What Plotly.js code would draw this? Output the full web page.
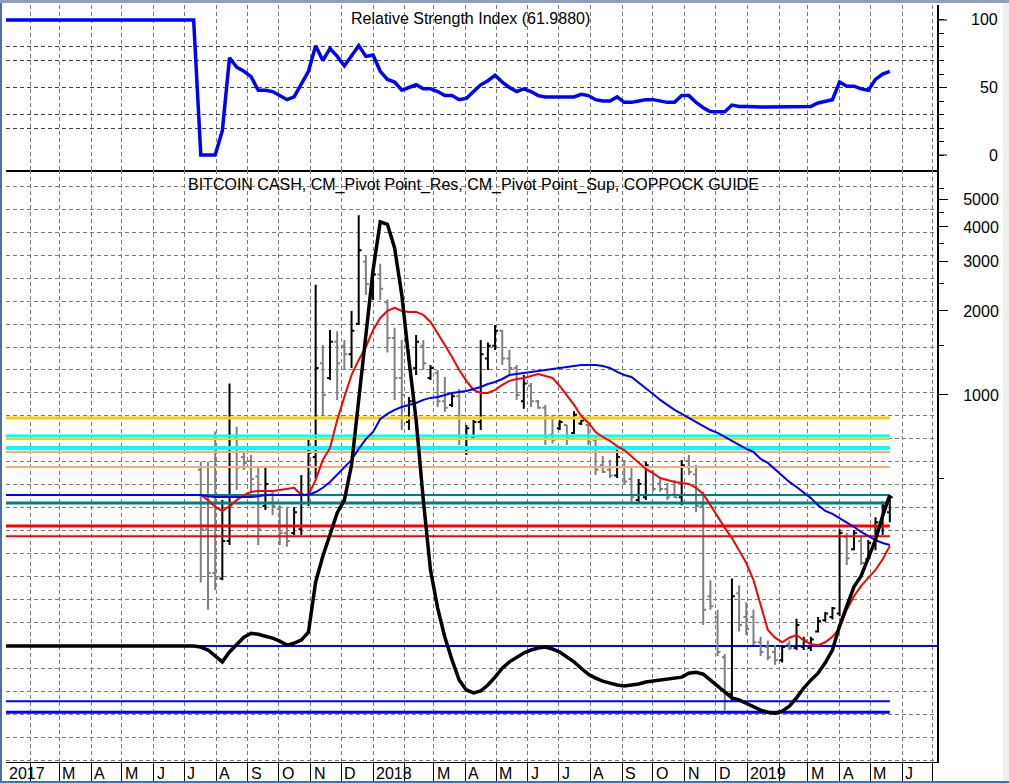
<!DOCTYPE html>
<html><head><meta charset="utf-8">
<script src="https://cdn.plot.ly/plotly-3.0.1.min.js"></script>
<style>html,body{margin:0;padding:0;background:#fff;overflow:hidden}#chart{width:1009px;height:783px}</style>
</head><body><div id="chart"></div>
<script>
// ---------- data ----------
const barDates = ['2017-07-17','2017-07-24','2017-07-31','2017-08-07','2017-08-14','2017-08-21','2017-08-28','2017-09-04','2017-09-11','2017-09-18','2017-09-25','2017-10-02','2017-10-09','2017-10-16','2017-10-23','2017-10-30','2017-11-06','2017-11-13','2017-11-20','2017-11-27','2017-12-04','2017-12-11','2017-12-18','2017-12-25','2018-01-01','2018-01-08','2018-01-15','2018-01-22','2018-01-29','2018-02-05','2018-02-12','2018-02-19','2018-02-26','2018-03-05','2018-03-12','2018-03-19','2018-03-26','2018-04-02','2018-04-09','2018-04-16','2018-04-23','2018-04-30','2018-05-07','2018-05-14','2018-05-21','2018-05-28','2018-06-04','2018-06-11','2018-06-18','2018-06-25','2018-07-02','2018-07-09','2018-07-16','2018-07-23','2018-07-30','2018-08-06','2018-08-13','2018-08-20','2018-08-27','2018-09-03','2018-09-10','2018-09-17','2018-09-24','2018-10-01','2018-10-08','2018-10-15','2018-10-22','2018-10-29','2018-11-05','2018-11-12','2018-11-19','2018-11-26','2018-12-03','2018-12-10','2018-12-17','2018-12-24','2018-12-31','2019-01-07','2019-01-14','2019-01-21','2019-01-28','2019-02-04','2019-02-11','2019-02-18','2019-02-25','2019-03-04','2019-03-11','2019-03-18','2019-03-25','2019-04-01','2019-04-08','2019-04-15','2019-04-22','2019-04-29','2019-05-06','2019-05-13','2019-05-20'];
const barOpen = [540,330,230,220,300,700,600,580,510,400,440,390,320,320,330,440,600,1300,1150,1550,1500,1400,1800,3000,2450,2700,2150,1600,1150,800,1250,1500,1150,1200,950,920,990,640,700,800,1350,1500,1700,1350,1250,950,1080,950,900,720,760,780,730,790,780,690,560,540,515,580,500,420,430,530,480,460,440,430,580,520,400,190,160,115,85,195,160,160,130,125,120,112,128,124,125,124,142,156,160,165,310,280,300,258,290,340,380];
const barHigh = [576,576,740,420,1100,770,620,610,550,550,457,403,398,396,517,690,2480,1511,1710,1690,1575,2000,4400,3150,2806,2950,2200,1740,1575,984,1641,1575,1281,1229,1160,1017,1051,781,814,1575,1541,1782,1710,1451,1281,1179,1104,960,921,850,814,781,875,814,781,707,605,585,635,585,546,500,575,539,500,484,496,585,610,561,450,217,170,118,220,208,181,170,136,132,127,127,132,158,136,136,160,167,174,330,320,328,312,302,365,415,438];
const barLow = [213,170,200,217,290,457,539,448,290,387,371,290,286,315,315,400,500,848,1132,960,1229,1250,1782,2280,2191,2191,1420,960,749,749,1179,1229,1132,906,870,906,662,610,690,749,1229,1450,1281,1179,960,892,906,892,662,670,749,662,725,781,662,517,525,504,504,476,410,410,420,450,450,420,427,403,517,380,150,170,116,74,80,142,138,127,116,112,108,110,122,122,122,121,141,154,157,161,246,278,246,256,278,315,350];
const barClose = [330,230,220,300,403,550,570,500,330,480,400,320,300,380,440,620,1250,1000,1550,1300,1400,1700,3300,2500,2700,2400,1600,1150,1000,950,1550,1300,1250,950,900,990,700,760,800,1400,1500,1700,1350,1250,1000,1100,950,900,700,690,800,700,850,810,680,540,530,515,600,490,430,480,560,460,460,430,430,560,530,400,170,175,120,80,190,150,145,130,120,115,112,125,124,150,132,133,155,165,172,320,260,320,250,295,350,400,430];

// indicator lines: two lead-in points before the first bar, then one value per weekly bar
const leadDates = ['2017-01-02','2017-07-10'];
const redLead = [438,438];
const redValues = [438,420,397,384,400,420,438,449,453,453,453,457,461,465,438,438,496,585,646,814,984,1179,1335,1486,1710,1888,2000,2050,2000,1984,1984,1935,1826,1668,1511,1368,1229,1123,1042,1017,1017,1042,1086,1123,1141,1151,1170,1189,1170,1151,1077,1000,921,841,794,737,707,684,656,635,604,575,543,525,504,496,488,484,480,465,442,403,365,334,307,278,250,217,177,144,135,130,135,138,132,128,127,130,136,146,170,190,207,221,236,258,288];
const blueLead = [438,438];
const blueValues = [438,434,431,431,431,431,431,431,434,438,438,438,438,438,438,438,449,465,488,517,548,585,641,695,737,820,855,884,906,921,936,960,976,984,1000,1017,1025,1033,1051,1068,1095,1113,1141,1179,1189,1199,1209,1219,1229,1239,1250,1260,1270,1281,1281,1281,1270,1250,1209,1179,1160,1104,1051,1008,960,921,884,855,827,800,774,749,731,707,684,662,641,625,590,571,543,513,488,468,446,427,403,384,375,362,351,337,323,313,302,295,290];
const coppockLead = [0,0];
const coppockValues = [-0.2,-0.8,-2.0,-3.2,-1.2,0.4,1.8,2.6,2.4,2.0,1.6,1.0,0.2,0.6,1.2,2.8,13.0,18.2,22.5,27.0,29.6,36.7,49.9,63.0,76.2,86.0,85.5,80.7,71.2,58.0,45.8,29.6,15.4,7.7,1.8,-2.8,-6.9,-8.9,-9.5,-9.1,-7.9,-6.3,-4.5,-3.2,-2.2,-1.4,-0.8,-0.4,-0.2,-0.6,-1.2,-2.2,-3.2,-4.5,-5.7,-6.5,-7.1,-7.5,-7.9,-8.1,-7.9,-7.7,-7.3,-7.1,-6.9,-6.7,-6.5,-6.3,-5.5,-5.3,-5.7,-6.9,-8.1,-9.3,-10.5,-10.9,-11.6,-12.2,-13.0,-13.4,-13.6,-13.2,-12.2,-10.5,-8.5,-6.9,-5.5,-3.4,-0.8,4.1,8.3,12.0,14.2,17.8,21.5,26.4,30.6];
const rsiLead = [100,100];
const rsiValues = [0,0,0,18,72,65,62,58,48,48,47,44,41,43,52,62,81,70,79,73,66,73,81,73,74,62,56,54,48,50,52,49,49,47,44,44,41,42,47,52,55,59,54,50,47,49,47,44,43,43,43,43,43,45,44,41,40,40,43,39,39,40,41,41,40,39,39,44,44,39,35,32,32,32,37,36,36,35.5,35.5,35.5,35.5,35.5,35.5,35.5,36,36,38.5,40,41,54,51,51,49,48,56,60,62];

// horizontal pivot levels (CM_Pivot Point_Res / _Sup)
const pivotLevels = [827,713,695,646,625,552,438,410,339,312,80,73];
const pivotColors = ['#ffcc00','#00ffff','#ffcc00','#00ffff','#ffaa70','#ffaa70','#008080','#008080','#ff0000','#ff0000','#0000ff','#0000ff'];
const pivotWidths = [3,3,2,4,2,2,2,3,3,2,2,3];
const pivotSpan = ['2017-01-02','2019-05-20'];

// axis ticks and labels
const monthTicks = ['2017-02-01','2017-03-01','2017-04-01','2017-05-01','2017-06-01','2017-07-01','2017-08-01','2017-09-01','2017-10-01','2017-11-01','2017-12-01','2018-01-01','2018-02-01','2018-03-01','2018-04-01','2018-05-01','2018-06-01','2018-07-01','2018-08-01','2018-09-01','2018-10-01','2018-11-01','2018-12-01','2019-01-01','2019-02-01','2019-03-01','2019-04-01','2019-05-01','2019-06-01','2019-07-01'];
const labelDates = ['2017-01-08','2017-03-01','2017-04-01','2017-05-01','2017-06-01','2017-07-01','2017-08-01','2017-09-01','2017-10-01','2017-11-01','2017-12-01','2018-01-01','2018-03-01','2018-04-01','2018-05-01','2018-06-01','2018-07-01','2018-08-01','2018-09-01','2018-10-01','2018-11-01','2018-12-01','2019-01-01','2019-03-01','2019-04-01','2019-05-01','2019-06-01'];
const labelTexts = ['2017','M','A','M','J','J','A','S','O','N','D','2018','M','A','M','J','J','A','S','O','N','D','2019','M','A','M','J'];
const priceTicks = [1000,2000,3000,4000,5000];
const priceMinor = [500,1500,2500,3500,4500,5500];
const rsiTicks = [0,50,100];
const rsiMinor = [0,10,20,30,40,50,60,70,80,90,100];
const rsiGrid = [20,30,50,70,80];

// ---------- layout helpers (pixel -> paper) ----------
const W = 1009, H = 783, ML = 6, MR = 72, MT = 5, MB = 21;
const PW = W - ML - MR, PH = H - MT - MB;
const px = v => (v - ML) / PW;
const py = v => (H - MB - v) / PH;
const xRange = ['2017-01-08', '2019-07-05'];
const FONT = 'Liberation Sans, Arial, sans-serif';
const GRID = '#7a7a7a';
const DASH = '4px,3px';
const PRICE_RANGE = [1.685, 3.806];

const lineDates = leadDates.concat(barDates);
const traces = [];
traces.push({type:'scatter', mode:'lines', x: lineDates, y: rsiLead.concat(rsiValues), xaxis:'x', yaxis:'y',
  line:{color:'#0000ff', width:3.5}, hoverinfo:'skip'});
traces.push({type:'ohlc', x: barDates, open: barOpen, high: barHigh, low: barLow, close: barClose, xaxis:'x2', yaxis:'y2',
  increasing:{line:{color:'#000000', width:2}}, decreasing:{line:{color:'#808080', width:2}}, tickwidth:0.4, hoverinfo:'skip'});
pivotLevels.forEach((lv, i) => {
  traces.push({type:'scatter', mode:'lines', x: pivotSpan, y:[lv, lv], xaxis:'x2', yaxis:'y4',
    line:{color: pivotColors[i], width: pivotWidths[i]}, hoverinfo:'skip'});
});
traces.push({type:'scatter', mode:'lines', x: lineDates, y: redLead.concat(redValues), xaxis:'x2', yaxis:'y4',
  line:{color:'#ff0000', width:2}, hoverinfo:'skip'});
traces.push({type:'scatter', mode:'lines', x: lineDates, y: blueLead.concat(blueValues), xaxis:'x2', yaxis:'y4',
  line:{color:'#0000ff', width:2}, hoverinfo:'skip'});
traces.push({type:'scatter', mode:'lines', x: lineDates, y: coppockLead.concat(coppockValues), xaxis:'x2', yaxis:'y5',
  line:{color:'#000000', width:3.5}, hoverinfo:'skip'});

const annotations = [];
annotations.push({xref:'paper', yref:'paper', x: px(470), y: py(19), xanchor:'center', yanchor:'middle',
  text:'Relative Strength Index (61.9880)', showarrow:false, font:{family:FONT, size:16, color:'#000'}});
annotations.push({xref:'paper', yref:'paper', x: px(473), y: py(185), xanchor:'center', yanchor:'middle',
  text:'BITCOIN CASH, CM_Pivot Point_Res, CM_Pivot Point_Sup, COPPOCK GUIDE', showarrow:false, font:{family:FONT, size:16, color:'#000'}});
rsiTicks.forEach(v => annotations.push({xref:'paper', yref:'y', x: px(1000), y: v, xanchor:'right', yanchor:'middle',
  text: String(v), showarrow:false, font:{family:FONT, size:16, color:'#000'}}));
labelDates.forEach((d, i) => annotations.push({xref:'x2', yref:'paper', x: d, y: py(773), xanchor:'left', yanchor:'middle',
  xshift: 1, text: labelTexts[i], showarrow:false, font:{family:FONT, size:16, color:'#000'}}));

const shapes = [
  {type:'rect', xref:'paper', yref:'paper', x0: px(0), x1: px(2), y0: py(0), y1: py(783), fillcolor:'#4d6fa8', line:{width:0}, layer:'above'},
  {type:'rect', xref:'paper', yref:'paper', x0: px(0), x1: px(1009), y0: py(0), y1: py(3), fillcolor:'#8da0c0', line:{width:0}, layer:'above'},
  {type:'rect', xref:'paper', yref:'paper', x0: px(0), x1: px(1009), y0: py(781), y1: py(783), fillcolor:'#4d6fa8', line:{width:0}, layer:'above'},
  {type:'rect', xref:'paper', yref:'paper', x0: px(1003), x1: px(1009), y0: py(3), y1: py(781), fillcolor:'#efefef', line:{width:0}, layer:'above'}
];
// long RSI axis ticks at the labelled values
rsiTicks.forEach(v => shapes.push({type:'line', xref:'paper', yref:'y', x0: 1, x1: px(947), y0: v, y1: v,
  line:{color:'#000', width:1}, layer:'above'}));

const layout = {
  width: W, height: H, margin:{l:ML, r:MR, t:MT, b:MB, pad:0},
  paper_bgcolor:'#ffffff', plot_bgcolor:'#ffffff', showlegend:false,
  font:{family:FONT, size:16, color:'#000'},
  xaxis:{domain:[0,1], anchor:'y', type:'date', range:xRange, tickmode:'array', tickvals:monthTicks,
    showticklabels:false, ticks:'', showgrid:true, gridcolor:GRID, griddash:DASH, gridwidth:1,
    showline:true, linecolor:'#000', linewidth:2, zeroline:false, fixedrange:true},
  xaxis2:{domain:[0,1], anchor:'y2', type:'date', range:xRange, matches:'x', tickmode:'array', tickvals:monthTicks,
    showticklabels:false, ticks:'outside', ticklen:21, tickcolor:'#000', tickwidth:1,
    showgrid:true, gridcolor:GRID, griddash:DASH, gridwidth:1,
    showline:true, linecolor:'#000', linewidth:1, zeroline:false, rangeslider:{visible:false}, fixedrange:true},
  // RSI panel: grid + short ticks
  yaxis:{domain:[py(170),1], anchor:'x', range:[-11.1,111.1], side:'right', showline:true, linecolor:'#000', linewidth:2,
    ticks:'', tickmode:'array', tickvals:rsiGrid, showticklabels:false,
    showgrid:true, gridcolor:'#404040', griddash:DASH, gridwidth:1, zeroline:false, fixedrange:true,
    minor:{tickmode:'array', tickvals:rsiMinor, ticks:'outside', ticklen:5, tickcolor:'#000', showgrid:false}},
  // price panel (bars): evenly spaced log grid + short ticks
  yaxis2:{domain:[0,py(170)], anchor:'x2', type:'log', range:PRICE_RANGE, side:'right', showline:true, linecolor:'#000', linewidth:2,
    ticks:'', tickmode:'linear', tick0:3.0072, dtick:0.0823, showticklabels:false,
    showgrid:true, gridcolor:GRID, griddash:DASH, gridwidth:1, zeroline:false, fixedrange:true,
    minor:{tickmode:'array', tickvals:priceMinor, ticks:'outside', ticklen:5, tickcolor:'#000', showgrid:false}},
  // price panel overlay: labelled ticks, carries the lines
  yaxis4:{overlaying:'y2', anchor:'x2', type:'log', range:PRICE_RANGE, side:'right', showline:false,
    ticks:'outside', ticklen:10, tickcolor:'#000', tickmode:'array', tickvals:priceTicks, ticktext:priceTicks.map(String),
    ticklabelstandoff:12, tickfont:{family:FONT, size:16, color:'#000'}, showgrid:false, zeroline:false, fixedrange:true},
  // Coppock guide scale
  yaxis5:{overlaying:'y2', anchor:'x2', range:[-23.5,96.5], side:'left', showgrid:false, zeroline:true, zerolinecolor:'#0000ff', zerolinewidth:2,
    showticklabels:false, ticks:'', showline:false, fixedrange:true},
  annotations, shapes
};
Plotly.newPlot('chart', traces, layout, {displayModeBar:false, staticPlot:true});
</script></body></html>
